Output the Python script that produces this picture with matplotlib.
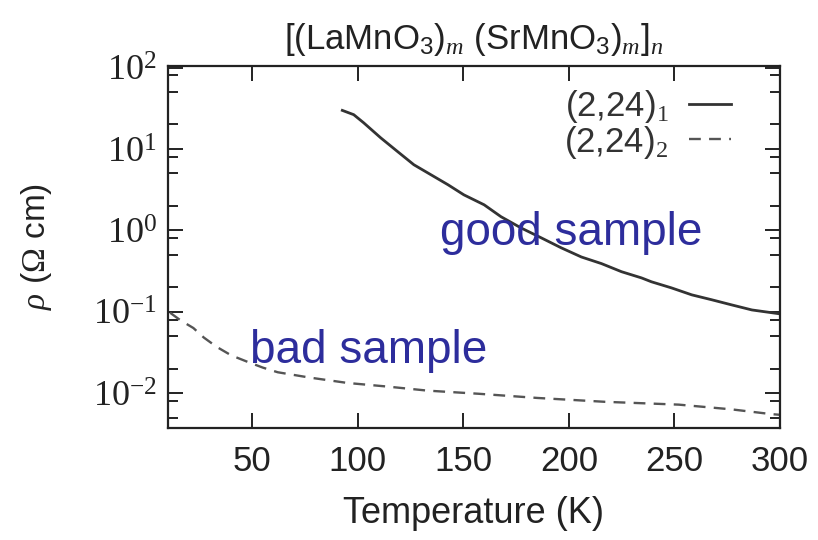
import numpy as np
import matplotlib
matplotlib.use("Agg")
import matplotlib.pyplot as plt
from matplotlib.ticker import FixedLocator, NullFormatter, NullLocator

# Resistivity vs temperature for two (2,24) superlattice samples
temp_good = [92.6, 98.0, 102.7, 110.8, 118.9, 126.5, 134.6, 142.7, 150.2, 159.8,
             167.8, 177.3, 186.8, 196.3, 205.9, 215.4, 224.9, 234.4, 239.1, 248.6,
             258.2, 267.7, 277.2, 286.7, 300.0]
rho_good = [29.8, 26.4, 21.0, 13.7, 9.24, 6.40, 4.82, 3.63, 2.73, 2.06,
            1.47, 1.07, 0.81, 0.61, 0.47, 0.39, 0.31, 0.26, 0.233, 0.196,
            0.161, 0.140, 0.121, 0.105, 0.094]

temp_bad = [11.0, 16.0, 22.0, 27.0, 33.0, 40.0, 48.0, 55.0, 62.0, 77.0, 95.0, 114.0,
            133.0, 157.0, 185.0, 217.0, 252.0, 277.0, 296.0, 300.0]
rho_bad = [0.097, 0.078, 0.063, 0.048, 0.037, 0.029, 0.024, 0.0205, 0.018, 0.0155,
           0.0133, 0.012, 0.0107, 0.0098, 0.0087, 0.0078, 0.0072, 0.0063, 0.0055, 0.0054]

series_labels = [r'(2,24)$_{1}$', r'(2,24)$_{2}$']
x_ticks = [50, 100, 150, 200, 250, 300]
y_ticks = [1e-2, 1e-1, 1e0, 1e1, 1e2]
y_tick_labels = [r'$10^{-2}$', r'$10^{-1}$', r'$10^{0}$', r'$10^{1}$', r'$10^{2}$']
y_minor = [m * 10.0 ** e for e in range(-3, 3) for m in (2, 5, 8)]

plt.rcParams['font.family'] = ['Liberation Sans', 'DejaVu Sans']
plt.rcParams['mathtext.fontset'] = 'custom'
plt.rcParams['mathtext.rm'] = 'Liberation Serif'
plt.rcParams['mathtext.it'] = 'Liberation Serif:italic'
plt.rcParams['mathtext.sf'] = 'Liberation Sans'

fig = plt.figure(figsize=(8.18, 5.40), dpi=100)
ax = fig.add_axes([0.2054, 0.2074, 0.7481, 0.6704])

ax.plot(temp_good, rho_good, color='#333333', lw=2.0, solid_joinstyle='round',
        label=series_labels[0])
ax.plot(temp_bad, rho_bad, color='#555555', lw=1.7, dashes=(5, 3.5),
        label=series_labels[1])

ax.set_yscale('log')
ax.set_xlim(10, 300)
ax.set_ylim(10 ** -2.43, 10 ** 2.02)

ax.xaxis.set_major_locator(FixedLocator(x_ticks))
ax.xaxis.set_minor_locator(NullLocator())
ax.set_xticklabels([str(v) for v in x_ticks])
ax.yaxis.set_major_locator(FixedLocator(y_ticks))
ax.set_yticklabels(y_tick_labels)
ax.yaxis.set_minor_locator(FixedLocator(y_minor))
ax.yaxis.set_minor_formatter(NullFormatter())

ax.tick_params(axis='both', which='major', direction='in', length=11, width=1.4,
               top=True, right=True, colors='#222222')
ax.tick_params(axis='y', which='minor', direction='in', length=7.5, width=1.4,
               left=True, right=True, colors='#222222')
ax.tick_params(axis='x', labelsize=25, pad=12)
ax.tick_params(axis='y', labelsize=26, pad=8)
for s in ax.spines.values():
    s.set_linewidth(1.6)
    s.set_color('#222222')

ax.set_xlabel('Temperature (K)', fontsize=26, color='#222222', labelpad=13)
ax.set_ylabel(r'$\rho$ ($\mathit{\Omega}$ cm)', fontsize=24, color='#222222',
              labelpad=28)
ax.set_title(r'[(LaMnO$_\mathsf{3}$)$_m$ (SrMnO$_\mathsf{3}$)$_m$]$_n$',
             fontsize=25, color='#222222', pad=12)

leg = ax.legend(loc='upper right', bbox_to_anchor=(0.965, 1.015), frameon=False,
                markerfirst=False, fontsize=25, handlelength=1.2,
                handletextpad=0.6, labelspacing=-0.05, borderpad=0.3)
for t in leg.get_texts():
    t.set_color('#333333')

ax.text(201, 10 ** -0.18, 'good sample', fontsize=33, color='#2d2d9c',
        ha='center', va='baseline')
ax.text(105, 10 ** -1.63, 'bad sample', fontsize=33, color='#2d2d9c',
        ha='center', va='baseline')

fig.savefig('out.png', dpi=100)
